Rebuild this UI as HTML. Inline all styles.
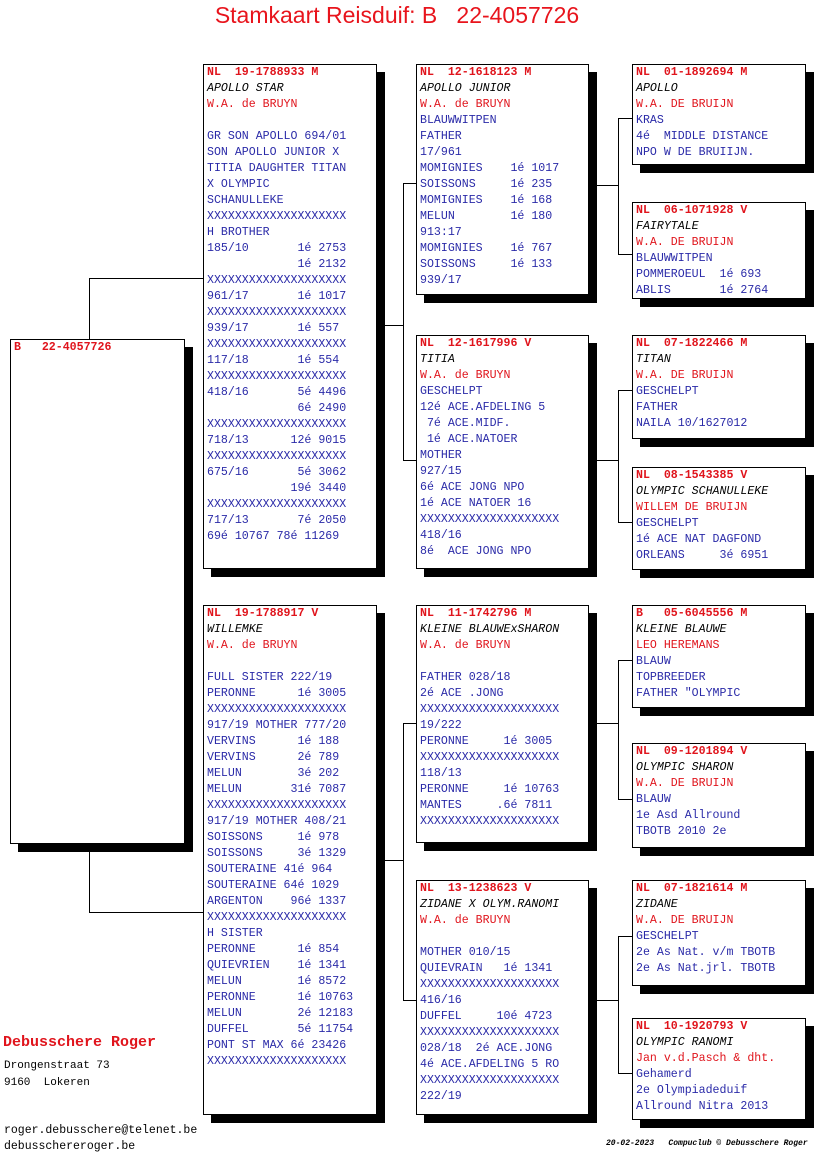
<!DOCTYPE html>
<html><head><meta charset="utf-8"><style>
body{margin:0;width:816px;height:1172px;background:#fff;position:relative;overflow:hidden;font-family:"Liberation Mono",monospace}
.t{position:absolute;left:0;width:794px;top:2px;text-align:center;font-family:"Liberation Sans",sans-serif;font-size:23px;color:#e8141c;white-space:pre}
.b{position:absolute;background:#fff;border:1px solid #000;box-shadow:8px 8px 0 #000;box-sizing:border-box;padding:0 0 0 3px;font-size:11.6px;line-height:16px;white-space:pre;color:#2a2aa8}
.b div{height:16px}
.h{color:#e0141c;font-weight:bold}
.n{color:#000;font-style:italic}
.r{color:#e0141c}
.l{position:absolute;background:#000}
.f{position:absolute;font-size:11.6px;line-height:16px;white-space:pre;color:#000}
</style></head><body>
<div class="t">Stamkaart Reisduif: B   22-4057726</div>

<!-- main -->
<div class="b" style="left:10px;top:339px;width:175px;height:505px"><div class="h">B   22-4057726</div></div>

<!-- connectors -->
<div class="l" style="left:89px;top:278px;width:1px;height:61px"></div>
<div class="l" style="left:89px;top:278px;width:114px;height:1px"></div>
<div class="l" style="left:89px;top:851px;width:1px;height:61px"></div>
<div class="l" style="left:89px;top:912px;width:114px;height:1px"></div>

<div class="l" style="left:385px;top:325px;width:18px;height:1px"></div>
<div class="l" style="left:403px;top:183px;width:1px;height:277px"></div>
<div class="l" style="left:403px;top:183px;width:13px;height:1px"></div>
<div class="l" style="left:403px;top:460px;width:13px;height:1px"></div>

<div class="l" style="left:385px;top:860px;width:18px;height:1px"></div>
<div class="l" style="left:403px;top:723px;width:1px;height:277px"></div>
<div class="l" style="left:403px;top:723px;width:13px;height:1px"></div>
<div class="l" style="left:403px;top:1000px;width:13px;height:1px"></div>

<div class="l" style="left:596px;top:185px;width:22px;height:1px"></div>
<div class="l" style="left:618px;top:118px;width:1px;height:136px"></div>
<div class="l" style="left:618px;top:118px;width:14px;height:1px"></div>
<div class="l" style="left:618px;top:254px;width:14px;height:1px"></div>

<div class="l" style="left:596px;top:460px;width:22px;height:1px"></div>
<div class="l" style="left:618px;top:390px;width:1px;height:132px"></div>
<div class="l" style="left:618px;top:390px;width:14px;height:1px"></div>
<div class="l" style="left:618px;top:522px;width:14px;height:1px"></div>

<div class="l" style="left:596px;top:723px;width:22px;height:1px"></div>
<div class="l" style="left:618px;top:660px;width:1px;height:139px"></div>
<div class="l" style="left:618px;top:660px;width:14px;height:1px"></div>
<div class="l" style="left:618px;top:799px;width:14px;height:1px"></div>

<div class="l" style="left:596px;top:1000px;width:22px;height:1px"></div>
<div class="l" style="left:618px;top:936px;width:1px;height:137px"></div>
<div class="l" style="left:618px;top:936px;width:14px;height:1px"></div>
<div class="l" style="left:618px;top:1073px;width:14px;height:1px"></div>

<!-- gen1 -->
<div class="b" style="left:203px;top:64px;width:174px;height:505px"><div class="h">NL  19-1788933 M</div><div class="n">APOLLO STAR</div><div class="r">W.A. de BRUYN</div><div></div><div>GR SON APOLLO 694/01</div><div>SON APOLLO JUNIOR X</div><div>TITIA DAUGHTER TITAN</div><div>X OLYMPIC</div><div>SCHANULLEKE</div><div>XXXXXXXXXXXXXXXXXXXX</div><div>H BROTHER</div><div>185/10       1é 2753</div><div>             1é 2132</div><div>XXXXXXXXXXXXXXXXXXXX</div><div>961/17       1é 1017</div><div>XXXXXXXXXXXXXXXXXXXX</div><div>939/17       1é 557</div><div>XXXXXXXXXXXXXXXXXXXX</div><div>117/18       1é 554</div><div>XXXXXXXXXXXXXXXXXXXX</div><div>418/16       5é 4496</div><div>             6é 2490</div><div>XXXXXXXXXXXXXXXXXXXX</div><div>718/13      12é 9015</div><div>XXXXXXXXXXXXXXXXXXXX</div><div>675/16       5é 3062</div><div>            19é 3440</div><div>XXXXXXXXXXXXXXXXXXXX</div><div>717/13       7é 2050</div><div>69é 10767 78é 11269</div></div>

<div class="b" style="left:203px;top:605px;width:174px;height:510px"><div class="h">NL  19-1788917 V</div><div class="n">WILLEMKE</div><div class="r">W.A. de BRUYN</div><div></div><div>FULL SISTER 222/19</div><div>PERONNE      1é 3005</div><div>XXXXXXXXXXXXXXXXXXXX</div><div>917/19 MOTHER 777/20</div><div>VERVINS      1é 188</div><div>VERVINS      2é 789</div><div>MELUN        3é 202</div><div>MELUN       31é 7087</div><div>XXXXXXXXXXXXXXXXXXXX</div><div>917/19 MOTHER 408/21</div><div>SOISSONS     1é 978</div><div>SOISSONS     3é 1329</div><div>SOUTERAINE 41é 964</div><div>SOUTERAINE 64é 1029</div><div>ARGENTON    96é 1337</div><div>XXXXXXXXXXXXXXXXXXXX</div><div>H SISTER</div><div>PERONNE      1é 854</div><div>QUIEVRIEN    1é 1341</div><div>MELUN        1é 8572</div><div>PERONNE      1é 10763</div><div>MELUN        2é 12183</div><div>DUFFEL       5é 11754</div><div>PONT ST MAX 6é 23426</div><div>XXXXXXXXXXXXXXXXXXXX</div></div>

<!-- gen2 -->
<div class="b" style="left:416px;top:64px;width:173px;height:231px"><div class="h">NL  12-1618123 M</div><div class="n">APOLLO JUNIOR</div><div class="r">W.A. de BRUYN</div><div>BLAUWWITPEN</div><div>FATHER</div><div>17/961</div><div>MOMIGNIES    1é 1017</div><div>SOISSONS     1é 235</div><div>MOMIGNIES    1é 168</div><div>MELUN        1é 180</div><div>913:17</div><div>MOMIGNIES    1é 767</div><div>SOISSONS     1é 133</div><div>939/17</div></div>

<div class="b" style="left:416px;top:335px;width:173px;height:234px"><div class="h">NL  12-1617996 V</div><div class="n">TITIA</div><div class="r">W.A. de BRUYN</div><div>GESCHELPT</div><div>12é ACE.AFDELING 5</div><div> 7é ACE.MIDF.</div><div> 1é ACE.NATOER</div><div>MOTHER</div><div>927/15</div><div>6é ACE JONG NPO</div><div>1é ACE NATOER 16</div><div>XXXXXXXXXXXXXXXXXXXX</div><div>418/16</div><div>8é  ACE JONG NPO</div></div>

<div class="b" style="left:416px;top:605px;width:173px;height:238px"><div class="h">NL  11-1742796 M</div><div class="n">KLEINE BLAUWExSHARON</div><div class="r">W.A. de BRUYN</div><div></div><div>FATHER 028/18</div><div>2é ACE .JONG</div><div>XXXXXXXXXXXXXXXXXXXX</div><div>19/222</div><div>PERONNE     1é 3005</div><div>XXXXXXXXXXXXXXXXXXXX</div><div>118/13</div><div>PERONNE     1é 10763</div><div>MANTES     .6é 7811</div><div>XXXXXXXXXXXXXXXXXXXX</div></div>

<div class="b" style="left:416px;top:880px;width:173px;height:235px"><div class="h">NL  13-1238623 V</div><div class="n">ZIDANE X OLYM.RANOMI</div><div class="r">W.A. de BRUYN</div><div></div><div>MOTHER 010/15</div><div>QUIEVRAIN   1é 1341</div><div>XXXXXXXXXXXXXXXXXXXX</div><div>416/16</div><div>DUFFEL     10é 4723</div><div>XXXXXXXXXXXXXXXXXXXX</div><div>028/18  2é ACE.JONG</div><div>4é ACE.AFDELING 5 RO</div><div>XXXXXXXXXXXXXXXXXXXX</div><div>222/19</div></div>

<!-- gen3 -->
<div class="b" style="left:632px;top:64px;width:174px;height:101px"><div class="h">NL  01-1892694 M</div><div class="n">APOLLO</div><div class="r">W.A. DE BRUIJN</div><div>KRAS</div><div>4é  MIDDLE DISTANCE</div><div>NPO W DE BRUIIJN.</div></div>
<div class="b" style="left:632px;top:202px;width:174px;height:97px"><div class="h">NL  06-1071928 V</div><div class="n">FAIRYTALE</div><div class="r">W.A. DE BRUIJN</div><div>BLAUWWITPEN</div><div>POMMEROEUL  1é 693</div><div>ABLIS       1é 2764</div></div>
<div class="b" style="left:632px;top:335px;width:174px;height:104px"><div class="h">NL  07-1822466 M</div><div class="n">TITAN</div><div class="r">W.A. DE BRUIJN</div><div>GESCHELPT</div><div>FATHER</div><div>NAILA 10/1627012</div></div>
<div class="b" style="left:632px;top:467px;width:174px;height:103px"><div class="h">NL  08-1543385 V</div><div class="n">OLYMPIC SCHANULLEKE</div><div class="r">WILLEM DE BRUIJN</div><div>GESCHELPT</div><div>1é ACE NAT DAGFOND</div><div>ORLEANS     3é 6951</div></div>
<div class="b" style="left:632px;top:605px;width:174px;height:103px"><div class="h">B   05-6045556 M</div><div class="n">KLEINE BLAUWE</div><div class="r">LEO HEREMANS</div><div>BLAUW</div><div>TOPBREEDER</div><div>FATHER "OLYMPIC</div></div>
<div class="b" style="left:632px;top:743px;width:174px;height:105px"><div class="h">NL  09-1201894 V</div><div class="n">OLYMPIC SHARON</div><div class="r">W.A. DE BRUIJN</div><div>BLAUW</div><div>1e Asd Allround</div><div>TBOTB 2010 2e</div></div>
<div class="b" style="left:632px;top:880px;width:174px;height:106px"><div class="h">NL  07-1821614 M</div><div class="n">ZIDANE</div><div class="r">W.A. DE BRUIJN</div><div>GESCHELPT</div><div>2e As Nat. v/m TBOTB</div><div>2e As Nat.jrl. TBOTB</div></div>
<div class="b" style="left:632px;top:1018px;width:174px;height:102px"><div class="h">NL  10-1920793 V</div><div class="n">OLYMPIC RANOMI</div><div class="r">Jan v.d.Pasch &amp; dht.</div><div>Gehamerd</div><div>2e Olympiadeduif</div><div>Allround Nitra 2013</div></div>

<!-- footer -->
<div class="f" style="left:3px;top:1035px;font-size:15px;font-weight:bold;color:#e0141c">Debusschere Roger</div>
<div class="f" style="left:4px;top:1058px;font-size:11px">Drongenstraat 73</div>
<div class="f" style="left:4px;top:1075px;font-size:11px">9160  Lokeren</div>
<div class="f" style="left:4px;top:1123px;font-size:11.5px">roger.debusschere@telenet.be</div>
<div class="f" style="left:4px;top:1139px;font-size:11.5px">debusschereroger.be</div>
<div class="f" style="left:606px;top:1136px;font-size:8px;font-style:italic;font-weight:bold">20-02-2023   Compuclub © Debusschere Roger</div>
</body></html>
